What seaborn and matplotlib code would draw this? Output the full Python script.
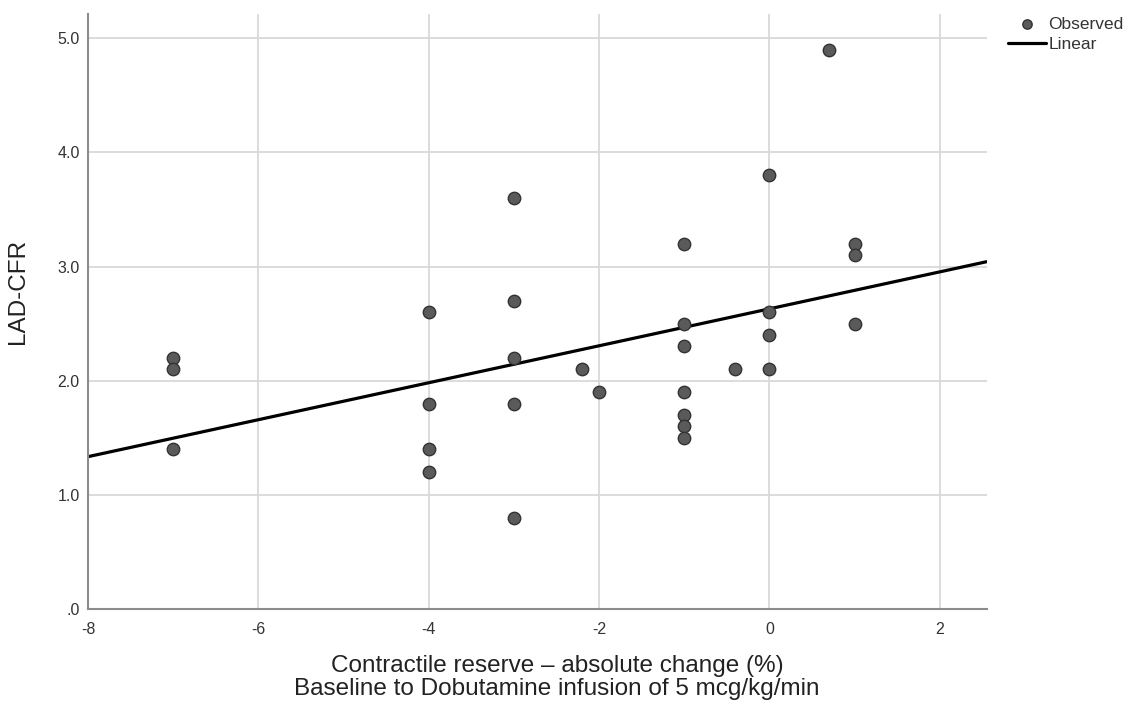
import numpy as np
import pandas as pd
import matplotlib
matplotlib.use("Agg")
import matplotlib.pyplot as plt
import seaborn as sns

# Data
cr_change = [-7, -7, -7,
             -4, -4, -4, -4,
             -3, -3, -3, -3, -3,
             -2.2, -2,
             -1, -1, -1, -1, -1, -1, -1,
             -0.4,
             0, 0, 0, 0,
             0.7,
             1, 1, 1]
lad_cfr = [2.2, 2.1, 1.4,
           2.6, 1.8, 1.4, 1.2,
           3.6, 2.7, 2.2, 1.8, 0.8,
           2.1, 1.9,
           3.2, 2.5, 2.3, 1.9, 1.7, 1.6, 1.5,
           2.1,
           3.8, 2.6, 2.4, 2.1,
           4.9,
           3.2, 3.1, 2.5]
x_ticks = [-8, -6, -4, -2, 0, 2]
y_ticks = [0, 1, 2, 3, 4, 5]
y_ticklabels = [".0", "1.0", "2.0", "3.0", "4.0", "5.0"]

df = pd.DataFrame({"cr": cr_change, "cfr": lad_cfr})

sns.set_style("white")
plt.rcParams["font.family"] = ["Liberation Sans", "DejaVu Sans"]
plt.rcParams["axes.unicode_minus"] = False

fig = plt.figure(figsize=(11.38, 7.16), dpi=100)
ax = fig.add_axes([0.0773, 0.1494, 0.7897, 0.8306])

ax.set_xlim(-8, 2.55)
ax.set_ylim(0, 5.21)
ax.set_xticks(x_ticks)
ax.set_yticks(y_ticks)
ax.set_yticklabels(y_ticklabels)
ax.grid(True, color="#d9d9d9", linewidth=1.3)
ax.set_axisbelow(True)

# linear fit over full x range
sns.regplot(data=df, x="cr", y="cfr", ax=ax, ci=None, truncate=False,
            scatter=False, line_kws={"color": "black", "linewidth": 2.3})
fit_line = ax.lines[-1]
sns.scatterplot(data=df, x="cr", y="cfr", ax=ax, s=80, color="#5a5a5a",
                edgecolor="#333333", linewidth=1.0, zorder=3)
pts = ax.collections[-1]

for s in ["top", "right"]:
    ax.spines[s].set_visible(False)
for s in ["left", "bottom"]:
    ax.spines[s].set_color("#8c8c8c")
    ax.spines[s].set_linewidth(1.5)
ax.tick_params(length=0, labelsize=11.5, labelcolor="#333333")
ax.tick_params(axis="x", pad=9)
ax.tick_params(axis="y", pad=6)

ax.set_xlabel("Contractile reserve \u2013 absolute change (%)\nBaseline to Dobutamine infusion of 5 mcg/kg/min",
              fontsize=17.5, color="#222222", labelpad=13, linespacing=1.1)
ax.set_ylabel("LAD-CFR", fontsize=17.5, color="#222222", labelpad=20)
ax.xaxis.label.set_x(0.522)
ax.yaxis.label.set_y(0.534)

ax.legend([pts, fit_line], ["Observed", "Linear"], loc="upper left",
          bbox_to_anchor=(1.006, 1.022), frameon=False, fontsize=12.5,
          handlelength=2.2, handletextpad=0.15, labelspacing=0.27,
          markerscale=0.75, labelcolor="#333333")

fig.savefig("out.png", dpi=100)
